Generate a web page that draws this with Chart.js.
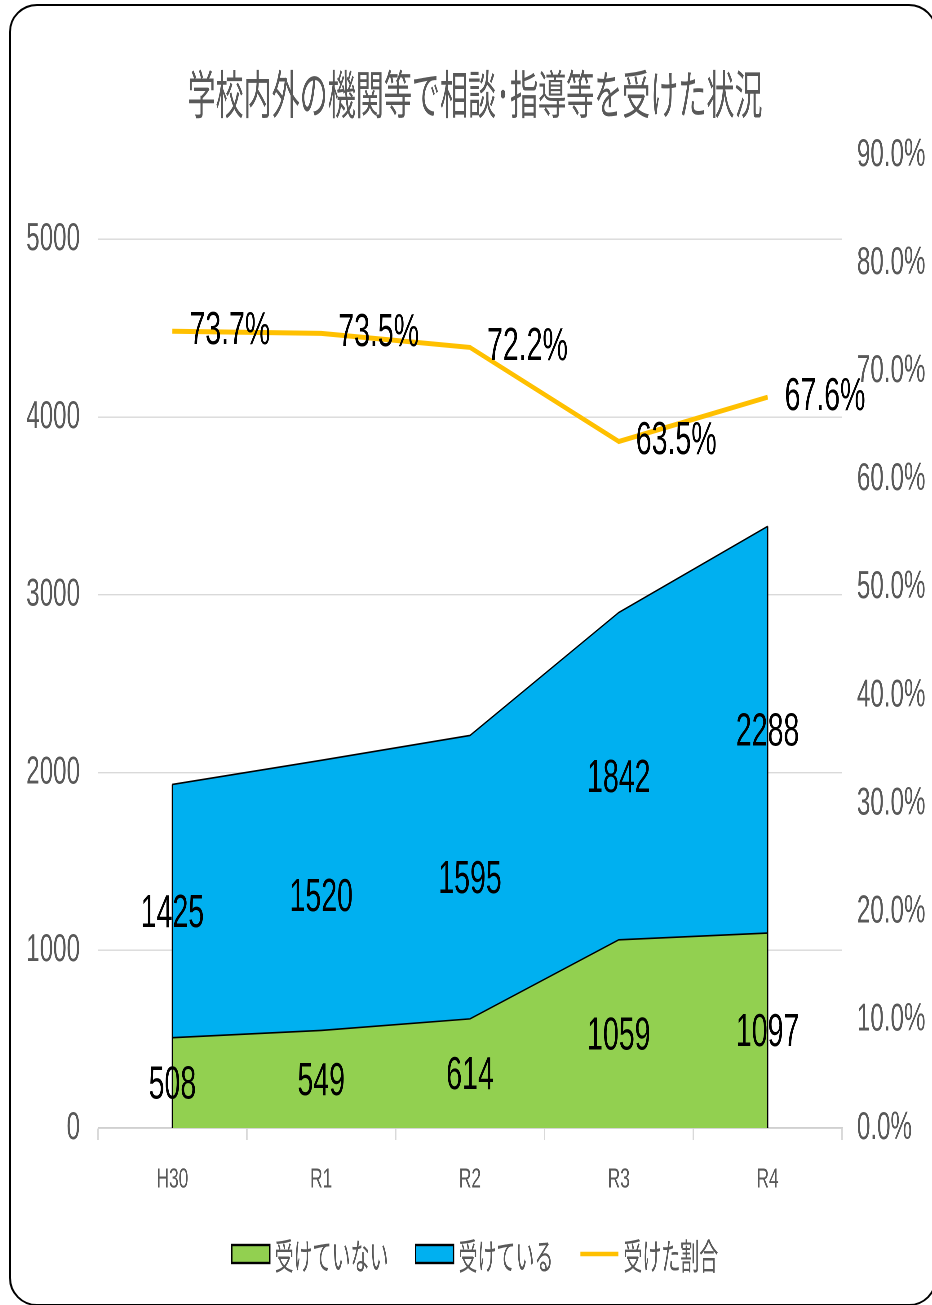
<!DOCTYPE html>
<html>
<head>
<meta charset="utf-8">
<script src="https://cdn.jsdelivr.net/npm/chart.js@4/dist/chart.umd.min.js"></script>
<style>
html, body { margin: 0; padding: 0; background: #fff; overflow: hidden; width: 932px; height: 1305px; }
#frame { position: absolute; left: 9px; top: 4px; width: 928px; height: 1302px; border: 2.5px solid #000; border-radius: 28px; box-sizing: border-box; }
#wrap { position: absolute; left: 0; top: 0; width: 1503px; height: 1305px; transform: scaleX(0.62); transform-origin: 0 0; }
</style>
</head>
<body>
<div id="frame"></div>
<div id="wrap"><canvas id="myChart"></canvas></div>
<script>
const labels = ['H30', 'R1', 'R2', 'R3', 'R4'];
const notReceived = [508, 549, 614, 1059, 1097];
const received = [1425, 1520, 1595, 1842, 2288];
const ratio = [73.7, 73.5, 72.2, 63.5, 67.6];
const countTicks = [0, 1000, 2000, 3000, 4000, 5000];
const ratioTicks = [0, 10, 20, 30, 40, 50, 60, 70, 80, 90];

// the original picture is squashed sideways, so the whole canvas is drawn wide and scaled by S
const S = 0.62;
const W = 1503;
const GREY = '#595959';

// title, drawn by hand so it can be squeezed a bit more
const titlePlugin = {
  id: 'titleText',
  afterDraw(chart) {
    const ctx = chart.ctx;
    ctx.save();
    ctx.translate(475 / S, 94);
    ctx.scale(0.87, 1);
    ctx.font = '52px "Noto Sans CJK JP"';
    ctx.fillStyle = GREY;
    ctx.textAlign = 'center';
    ctx.textBaseline = 'middle';
    ctx.fillText('学校内外の機関等で相談･指導等を受けた状況', 0, 0);
    ctx.restore();
  }
};

// legend at the bottom
const legendPlugin = {
  id: 'bottomLegend',
  afterDraw(chart) {
    const ctx = chart.ctx;
    const k = 0.85;
    const boxW = 38 / S, gap = 5 / S, space = 27 / S, y = 1254;
    ctx.save();
    ctx.font = '36px "Noto Sans CJK JP"';
    const items = chart.data.datasets.map(ds => ({
      text: ds.label,
      w: ctx.measureText(ds.label).width * k,
      ds: ds
    }));
    let total = 0;
    items.forEach((it, i) => { total += boxW + gap + it.w + (i ? space : 0); });
    let x = 475 / S - total / 2;
    items.forEach(it => {
      if (it.ds.fill) {
        ctx.fillStyle = it.ds.backgroundColor;
        ctx.fillRect(x, y - 9, boxW, 18);
        ctx.strokeStyle = '#000';
        ctx.lineWidth = 2.4;
        ctx.strokeRect(x, y - 9, boxW, 18);
      } else {
        ctx.strokeStyle = it.ds.borderColor;
        ctx.lineWidth = 4.5;
        ctx.beginPath();
        ctx.moveTo(x, y);
        ctx.lineTo(x + boxW, y);
        ctx.stroke();
      }
      x += boxW + gap;
      ctx.save();
      ctx.translate(x, y);
      ctx.scale(k, 1);
      ctx.fillStyle = GREY;
      ctx.textAlign = 'left';
      ctx.textBaseline = 'middle';
      ctx.fillText(it.text, 0, 2);
      ctx.restore();
      x += it.w + space;
    });
    ctx.restore();
  }
};

// outline ends of the stacked areas and the value labels
const labelPlugin = {
  id: 'valueLabels',
  afterDatasetsDraw(chart) {
    const ctx = chart.ctx;
    const xS = chart.scales.x, yS = chart.scales.y, y1S = chart.scales.y1;
    ctx.save();
    ctx.strokeStyle = '#000';
    ctx.lineWidth = 2.4;
    [0, labels.length - 1].forEach(i => {
      const x = xS.getPixelForValue(i);
      ctx.beginPath();
      ctx.moveTo(x, yS.getPixelForValue(0));
      ctx.lineTo(x, yS.getPixelForValue(notReceived[i] + received[i]));
      ctx.stroke();
    });
    ctx.font = '46px "Liberation Sans"';
    ctx.fillStyle = '#000';
    ctx.textBaseline = 'middle';
    labels.forEach((l, i) => {
      const x = xS.getPixelForValue(i);
      ctx.textAlign = 'center';
      ctx.fillText(String(notReceived[i]), x, yS.getPixelForValue(notReceived[i] / 2) + 3);
      ctx.fillText(String(received[i]), x, yS.getPixelForValue(notReceived[i] + received[i] / 2) + 3);
      ctx.textAlign = 'left';
      ctx.fillText(ratio[i].toFixed(1) + '%', x + 17 / S, y1S.getPixelForValue(ratio[i]));
    });
    ctx.restore();
  }
};

const data = {
  labels: labels,
  datasets: [{
    label: '受けていない',
    data: notReceived,
    backgroundColor: '#92D050',
    borderColor: '#000',
    borderWidth: 1.6,
    fill: 'origin',
    pointRadius: 0,
    tension: 0,
    yAxisID: 'y'
  }, {
    label: '受けている',
    data: received,
    backgroundColor: '#00B0F0',
    borderColor: '#000',
    borderWidth: 1.6,
    fill: '-1',
    pointRadius: 0,
    tension: 0,
    yAxisID: 'y'
  }, {
    label: '受けた割合',
    data: ratio,
    borderColor: '#FFC000',
    backgroundColor: '#FFC000',
    borderWidth: 5,
    fill: false,
    pointRadius: 0,
    tension: 0,
    yAxisID: 'y1'
  }]
};

const config = {
  type: 'line',
  data: data,
  options: {
    responsive: true,
    maintainAspectRatio: false,
    devicePixelRatio: 2,
    animation: false,
    layout: { padding: { top: 155, left: 0, right: 0, bottom: 0 } },
    plugins: {
      legend: { display: false },
      title: { display: false },
      tooltip: { enabled: false }
    },
    scales: {
      x: {
        offset: true,
        grid: { offset: true, drawOnChartArea: false, drawTicks: true, tickLength: 12, color: '#d9d9d9', lineWidth: 2.4 },
        border: { color: '#d0d0d0', width: 1.6 },
        ticks: { color: GREY, font: { family: 'Liberation Sans', size: 28 }, padding: 23, maxRotation: 0 },
        afterFit: s => { s.height = 177; }
      },
      y: {
        position: 'left',
        stacked: true,
        min: 0,
        max: 5475,
        afterBuildTicks: s => { s.ticks = countTicks.map(v => ({ value: v })); },
        grid: { color: '#d9d9d9', lineWidth: 1.4, drawTicks: false },
        border: { display: false },
        ticks: { color: GREY, font: { family: 'Liberation Sans', size: 39 }, padding: 29, callback: v => String(v) },
        afterFit: s => { s.width = 98 / S; }
      },
      y1: {
        position: 'right',
        min: 0,
        max: 90,
        afterBuildTicks: s => { s.ticks = ratioTicks.map(v => ({ value: v })); },
        grid: { display: false, drawTicks: false },
        border: { display: false },
        ticks: { color: GREY, font: { family: 'Liberation Sans', size: 39 }, padding: 24, callback: v => v.toFixed(1) + '%' },
        afterFit: s => { s.width = W - 842 / S; }
      }
    }
  },
  plugins: [titlePlugin, legendPlugin, labelPlugin]
};

const myChart = new Chart(
  document.getElementById('myChart'),
  config
);
</script>
</body>
</html>
